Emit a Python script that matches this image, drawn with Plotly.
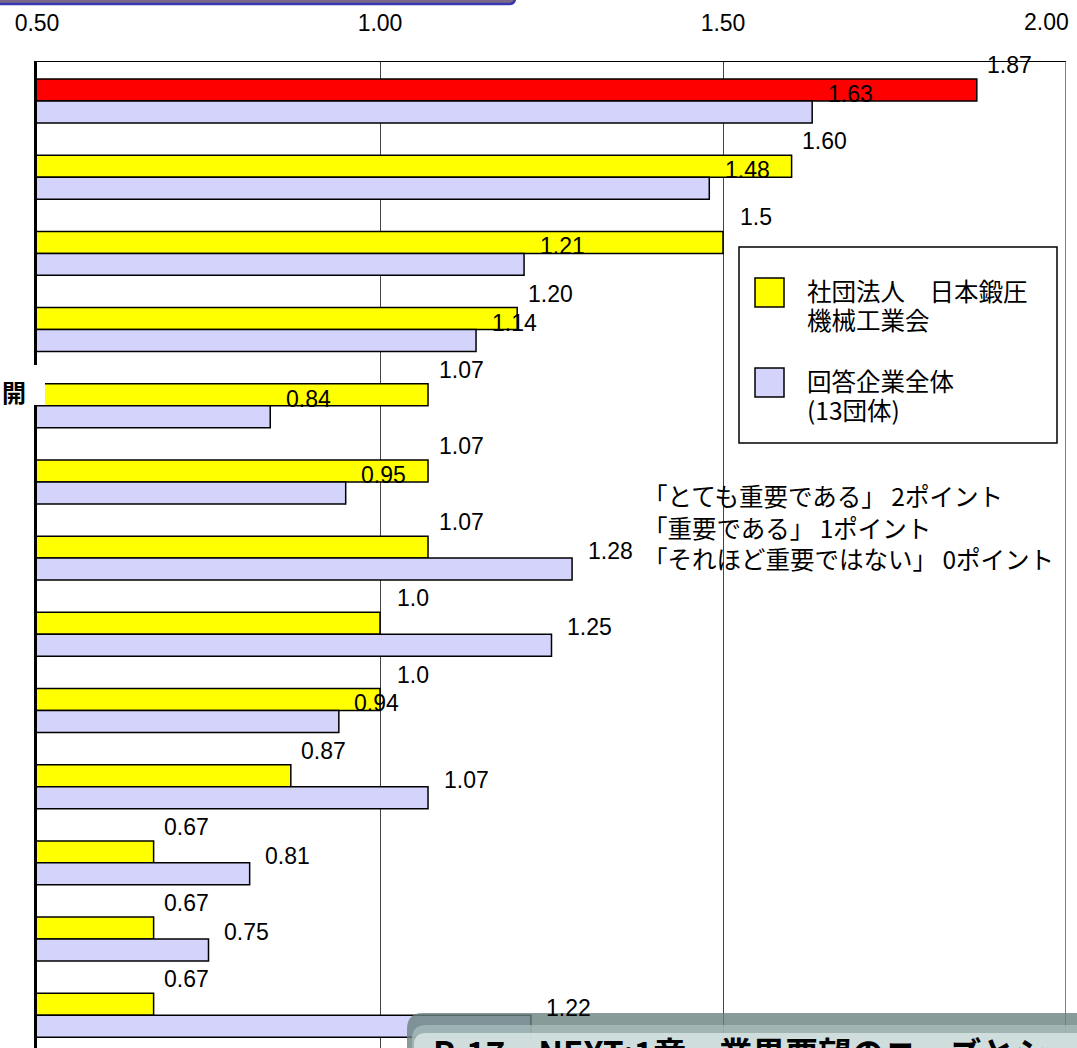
import plotly.graph_objects as go

# Importance scores per item (2 = very important, 1 = important, 0 = not so important)
items = list(range(1, 14))
assoc_values = [1.87, 1.60, 1.5, 1.20, 1.07, 1.07, 1.07, 1.0, 1.0, 0.87, 0.67, 0.67, 0.67]
assoc_labels = ["1.87", "1.60", "1.5", "1.20", "1.07", "1.07", "1.07", "1.0", "1.0", "0.87", "0.67", "0.67", "0.67"]
all_values = [1.63, 1.48, 1.21, 1.14, 0.84, 0.95, 1.28, 1.25, 0.94, 1.07, 0.81, 0.75, 1.22]
all_labels = ["1.63", "1.48", "1.21", "1.14", "0.84", "0.95", "1.28", "1.25", "0.94", "1.07", "0.81", "0.75", "1.22"]
x_ticks = [0.5, 1.0, 1.5, 2.0]
x_tick_text = ["0.50", "1.00", "1.50", "2.00"]

series_names = [["社団法人　日本鍛圧", "機械工業会"], ["回答企業全体", "(13団体)"]]
note_lines = ["「とても重要である」 2ポイント", "「重要である」 1ポイント", "「それほど重要ではない」 0ポイント"]
footer_text = "P-17　NEXT:1章　業界要望のニーズとシーズ"

W, H = 1077, 1048
ML, MR, MT, MB = 37, 11, 62, 0
PW, PH = W - ML - MR, H - MT - MB

NUM_FONT = "Liberation Sans, Arial, sans-serif"
JP_FONT = "Noto Sans CJK JP, sans-serif"
YELLOW = "#ffff00"
RED = "#ff0000"
LAVENDER = "#d3d3fb"


def px(x):
    return (x - ML) / PW


def py(y):
    return (H - MB - y) / PH


idx = [i - 1 for i in items]
assoc_colors = [RED] + [YELLOW] * (len(items) - 1)

fig = go.Figure()
fig.add_trace(go.Bar(
    y=idx, x=assoc_values, orientation="h", base=0,
    marker=dict(color=assoc_colors, line=dict(color="black", width=1.5)),
    name="assoc", showlegend=False, hoverinfo="x",
))
fig.add_trace(go.Bar(
    y=idx, x=all_values, orientation="h", base=0,
    marker=dict(color=LAVENDER, line=dict(color="black", width=1.5)),
    name="all", showlegend=False, hoverinfo="x",
))

annotations = []
half = 0.1443
for i, (v, t) in enumerate(zip(assoc_values, assoc_labels)):
    annotations.append(dict(x=v, y=i - half, xref="x", yref="y", text=t, showarrow=False,
                            xshift=33, yshift=25, font=dict(family=NUM_FONT, size=23, color="black")))
for i, (v, t) in enumerate(zip(all_values, all_labels)):
    annotations.append(dict(x=v, y=i + half, xref="x", yref="y", text=t, showarrow=False,
                            xshift=38, yshift=18, font=dict(family=NUM_FONT, size=23, color="black")))

# rightmost tick label kept inside the frame
annotations.append(dict(x=2.0, y=py(22), xref="x", yref="paper", text=x_tick_text[-1], showarrow=False,
                        xanchor="right", xshift=5, yanchor="middle",
                        font=dict(family=NUM_FONT, size=23, color="black")))

shapes = []

# right edge of the plot frame
shapes.append(dict(type="line", xref="x", yref="paper", x0=2.0, x1=2.0, y0=0, y1=1,
                   line=dict(color="black", width=1), layer="above"))

# legend box
shapes.append(dict(type="rect", xref="paper", yref="paper", x0=px(739), x1=px(1057), y0=py(247), y1=py(443),
                   line=dict(color="black", width=1.5), fillcolor="white", layer="above"))
shapes.append(dict(type="rect", xref="paper", yref="paper", x0=px(755), x1=px(784), y0=py(278), y1=py(307),
                   line=dict(color="black", width=1.5), fillcolor=YELLOW, layer="above"))
shapes.append(dict(type="rect", xref="paper", yref="paper", x0=px(755), x1=px(784), y0=py(368), y1=py(397),
                   line=dict(color="black", width=1.5), fillcolor=LAVENDER, layer="above"))
legend_line_y = [[290, 320], [380, 409]]
for name_lines, ys in zip(series_names, legend_line_y):
    for line, yy in zip(name_lines, ys):
        annotations.append(dict(x=px(805), y=py(yy), xref="paper", yref="paper", text=line,
                                showarrow=False, xanchor="left", yanchor="middle", align="left",
                                font=dict(family=JP_FONT, size=24.5, color="black")))

# scoring note
for line, yy in zip(note_lines, [496, 527, 558]):
    annotations.append(dict(x=px(641), y=py(yy), xref="paper", yref="paper", text=line,
                            showarrow=False, xanchor="left", yanchor="middle", align="left",
                            font=dict(family=JP_FONT, size=24.5, color="black")))

# category label fragment at the left edge
shapes.append(dict(type="rect", xref="paper", yref="paper", x0=px(-5), x1=px(45), y0=py(365), y1=py(405),
                   line=dict(width=0), fillcolor="white", layer="above"))
annotations.append(dict(x=px(14), y=py(391), xref="paper", yref="paper", text="<b>開</b>",
                        showarrow=False, xanchor="center", yanchor="middle",
                        font=dict(family=JP_FONT, size=24, color="black")))


def rounded_rect(x0, y0, x1, y1, r):
    X = px
    Y = py
    return (f"M {X(x0 + r)} {Y(y0)} L {X(x1 - r)} {Y(y0)} Q {X(x1)} {Y(y0)} {X(x1)} {Y(y0 + r)} "
            f"L {X(x1)} {Y(y1 - r)} Q {X(x1)} {Y(y1)} {X(x1 - r)} {Y(y1)} "
            f"L {X(x0 + r)} {Y(y1)} Q {X(x0)} {Y(y1)} {X(x0)} {Y(y1 - r)} "
            f"L {X(x0)} {Y(y0 + r)} Q {X(x0)} {Y(y0)} {X(x0 + r)} {Y(y0)} Z")


# title banner peeking in at the top
shapes.append(dict(type="path", xref="paper", yref="paper", path=rounded_rect(-30, -40, 515, 4, 6),
                   line=dict(color="#3838b0", width=2.5), fillcolor="#7c6888", layer="above"))

# page footer box at the bottom right
shapes.append(dict(type="path", xref="paper", yref="paper", path=rounded_rect(407, 1013, 1120, 1120, 16),
                   line=dict(width=0), fillcolor="rgba(105,130,127,0.80)", layer="above"))
shapes.append(dict(type="path", xref="paper", yref="paper", path=rounded_rect(412, 1025, 1120, 1120, 14),
                   line=dict(width=0), fillcolor="rgba(170,190,188,0.75)", layer="above"))
shapes.append(dict(type="path", xref="paper", yref="paper", path=rounded_rect(414, 1033, 1120, 1120, 12),
                   line=dict(width=0), fillcolor="rgba(215,228,228,0.85)", layer="above"))
annotations.append(dict(x=px(431), y=py(1026), xref="paper", yref="paper",
                        text=f"<b>{footer_text}</b>",
                        showarrow=False, xanchor="left", yanchor="top",
                        font=dict(family=JP_FONT, size=33, color="black")))

fig.update_layout(
    width=W, height=H,
    margin=dict(l=ML, r=MR, t=MT, b=MB, pad=0),
    paper_bgcolor="white", plot_bgcolor="white",
    barmode="group", bargap=0.423, bargroupgap=0,
    showlegend=False,
    annotations=annotations, shapes=shapes,
    xaxis=dict(
        range=[0.5, 2.0], side="top", tickvals=x_ticks,
        ticktext=x_tick_text[:-1] + [""],
        showgrid=True, gridcolor="#444444", gridwidth=1,
        showline=True, linecolor="black", linewidth=1, mirror=False,
        ticks="", ticklabelstandoff=21, zeroline=False,
        tickfont=dict(family=NUM_FONT, size=23, color="black"),
    ),
    yaxis=dict(
        range=[12 + 0.43, -0.512], showticklabels=False, showgrid=False,
        showline=True, linecolor="black", linewidth=2.5, zeroline=False, ticks="",
    ),
)

fig.write_html("out.html")
